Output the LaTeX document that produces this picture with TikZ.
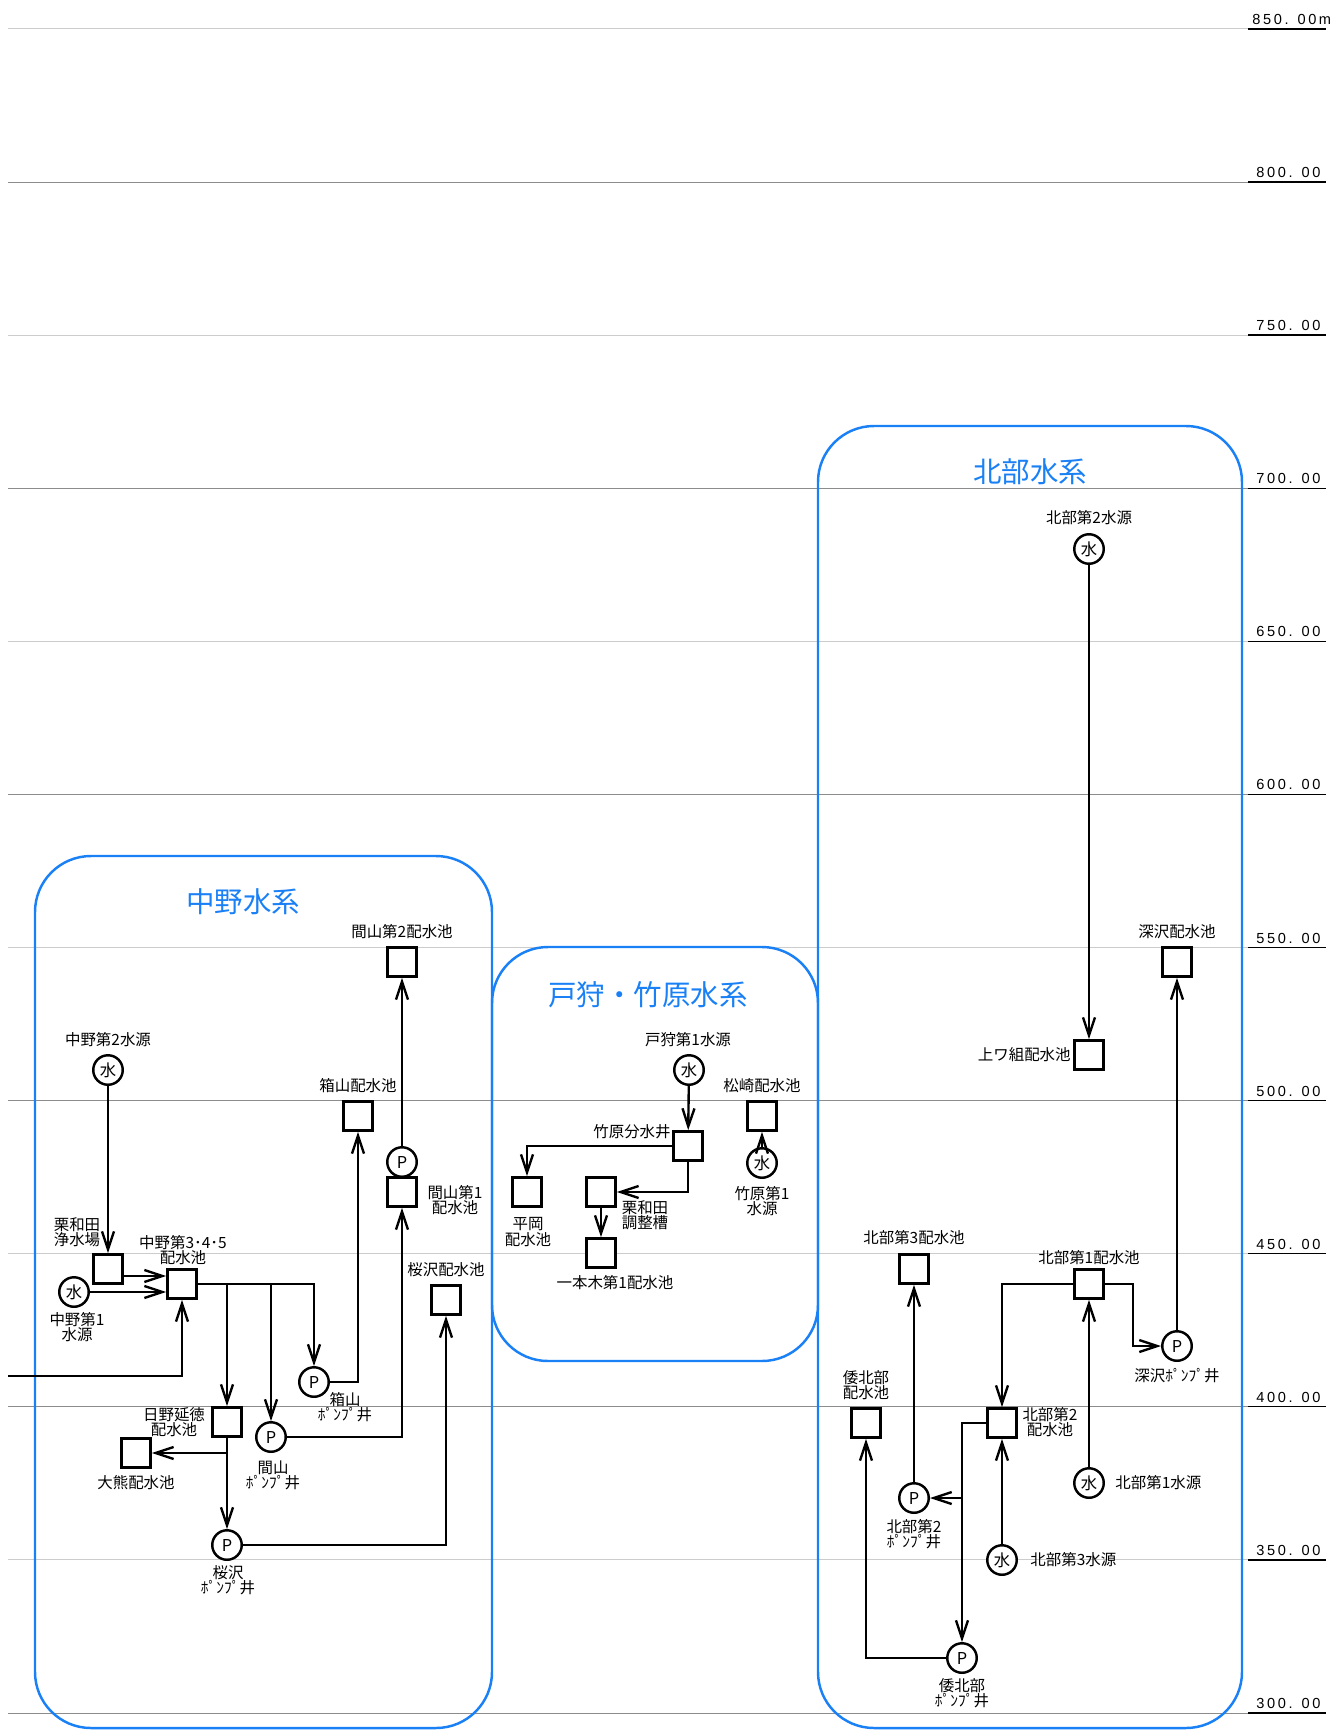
\documentclass[tikz,border=0pt]{standalone}
\usepackage{fontspec}
\setmainfont{Noto Sans CJK JP}
\newfontfamily\levelfont[LetterSpace=18]{Liberation Sans}
\usepackage{tikz}
\usetikzlibrary{arrows.meta,calc}
\definecolor{sysblue}{HTML}{1A80F5}

\begin{document}
\begin{tikzpicture}[
        x=0.2mm, y=-0.2mm,
        >={Straight Barb[length=3.6mm,width=2.4mm]},
        every node/.style={font={\fontsize{8.8}{8.6}\selectfont}},
        tank/.style={draw, fill=white, line width=1.7pt, minimum size=5.75mm, inner sep=0pt},
        pump/.style={draw, fill=white, circle, line width=1.4pt, minimum size=5.9mm, inner sep=0pt,
                     font={\fontsize{9.3}{9.3}\selectfont}},
        pipe/.style={line width=1.35pt},
        lbl/.style={align=center, inner sep=0pt},
        level/.style={inner sep=0pt, font={\levelfont\fontsize{8.3}{8.3}\selectfont}},
        frame/.style={draw=sysblue, line width=1.4pt, rounded corners=11.2mm},
        title/.style={text=sysblue, inner sep=0pt, font={\fontsize{16.2}{18}\selectfont}}
    ]
    \useasboundingbox (0,0) rectangle (1335,1731);

    %================================================
    % Level lines 300 m - 850 m
    %================================================
    \foreach \h in {300,400,...,800}
        \draw[black!45, line width=0.5pt] (8,{1713-(\h-300)*3.062}) -- (1248,{1713-(\h-300)*3.062});
    \foreach \h in {350,450,...,850}
        \draw[black!20, line width=0.5pt] (8,{1713-(\h-300)*3.062}) -- (1248,{1713-(\h-300)*3.062});
    \foreach \h in {300,350,...,800}{
        \draw[line width=0.7pt] (1248,{1713-(\h-300)*3.062}) -- (1326,{1713-(\h-300)*3.062});
        \node[level, anchor=base west] (lv\h) at (1256,{1713-(\h-300)*3.062-4.5}) {\h. 00};
    }
    \draw[line width=0.7pt] (1248,29) -- (1326,29);
    \node[level, anchor=base west] (lv850) at (1252,24.5) {850. 00m};

    %================================================
    % 中野水系
    %================================================
    \draw[frame] (35,856) rectangle (492,1728);
    \node[title] (nakanoT) at (243,902) {中野水系};

    \node[pump] (nakano2) at (108,1070) {水};
    \node[lbl] (nakano2L) at (108,1040) {中野第2水源};
    \node[tank] (kuriJ) at (108,1269) {};
    \node[lbl] (kuriJL) at (77,1232) {栗和田\\浄水場};
    \node[tank] (nakano345) at (182,1284) {};
    \node[lbl] (nakano345L) at (183,1250) {中野第3･4･5\\配水池};
    \node[pump] (nakano1) at (74,1292) {水};
    \node[lbl] (nakano1L) at (77,1327) {中野第1\\水源};

    \node[tank] (hako) at (358,1116) {};
    \node[lbl] (hakoL) at (358,1086) {箱山配水池};
    \node[pump] (hakoP) at (314,1382) {P};
    \node[lbl] (hakoPL) at (345,1407) {箱山\\ﾎﾟﾝﾌﾟ井};

    \node[tank] (mayama2) at (402,962) {};
    \node[lbl] (mayama2L) at (402,932) {間山第2配水池};
    \node[pump] (mayama1P) at (402,1162) {P};
    \node[tank] (mayama1) at (402,1192) {};
    \node[lbl] (mayama1L) at (455,1200) {間山第1\\配水池};
    \node[pump] (mayamaP) at (271,1437) {P};
    \node[lbl] (mayamaPL) at (273,1475) {間山\\ﾎﾟﾝﾌﾟ井};

    \node[tank] (sakura) at (446,1300) {};
    \node[lbl] (sakuraL) at (446,1270) {桜沢配水池};
    \node[pump] (sakuraP) at (227,1545) {P};
    \node[lbl] (sakuraPL) at (228,1580) {桜沢\\ﾎﾟﾝﾌﾟ井};

    \node[tank] (hino) at (227,1422) {};
    \node[lbl] (hinoL) at (174,1422) {日野延徳\\配水池};
    \node[tank] (okuma) at (136,1453) {};
    \node[lbl] (okumaL) at (136,1483) {大熊配水池};

    \coordinate (westin) at (8,1376);
    \coordinate (kuriJout) at ($(kuriJ.east)+(0,7)$);

    \draw[pipe,->] (nakano2) -- (kuriJ);
    \draw[pipe,->] (kuriJout) -- (kuriJout -| nakano345.west);
    \draw[pipe,->] (nakano1) -- (nakano1 -| nakano345.west);
    \draw[pipe,->] (westin) -| (nakano345);
    \draw[pipe,->] (nakano345.east) -| (hakoP);
    \draw[pipe,->] (nakano345.east -| hino) -- (hino);
    \draw[pipe,->] (nakano345.east -| mayamaP) -- (mayamaP);
    \draw[pipe,->] (hakoP) -| (hako);
    \draw[pipe,->] (mayamaP) -| (mayama1);
    \draw[pipe,->] (mayama1P) -- (mayama2);
    \draw[pipe,->] (hino) -- (sakuraP);
    \draw[pipe,->] (hino |- okuma) -- (okuma);
    \draw[pipe,->] (sakuraP) -| (sakura);

    %================================================
    % 戸狩・竹原水系
    %================================================
    \draw[frame] (492,947) rectangle (818,1361);
    \node[title] (togariT) at (648,995) {戸狩・竹原水系};

    \node[pump] (togari1) at (689,1070) {水};
    \node[lbl] (togari1L) at (688,1040) {戸狩第1水源};
    \node[tank] (bunsui) at (688,1146) {};
    \node[lbl] (bunsuiL) at (632,1132) {竹原分水井};
    \node[tank] (hiraoka) at (527,1192) {};
    \node[lbl] (hiraokaL) at (528,1232) {平岡\\配水池};
    \node[tank] (kuriT) at (601,1192) {};
    \node[lbl] (kuriTL) at (645,1215) {栗和田\\調整槽};
    \node[tank] (ipponki) at (601,1253) {};
    \node[lbl] (ipponkiL) at (615,1283) {一本木第1配水池};
    \node[tank] (matsu) at (762,1116) {};
    \node[lbl] (matsuL) at (762,1086) {松崎配水池};
    \node[pump] (takehara1) at (762,1163) {水};
    \node[lbl] (takehara1L) at (762,1201) {竹原第1\\水源};

    \draw[pipe,->] (togari1) -- (bunsui);
    \draw[pipe,->] (bunsui) -| (hiraoka);
    \draw[pipe,->] (bunsui) |- (kuriT);
    \draw[pipe,->] (kuriT) -- (ipponki);
    \draw[pipe,->] (takehara1) -- (matsu);

    %================================================
    % 北部水系
    %================================================
    \draw[frame] (818,426) rectangle (1242,1728);
    \node[title] (hokubuT) at (1030,472) {北部水系};

    \node[pump] (hb2src) at (1089,549) {水};
    \node[lbl] (hb2srcL) at (1089,518) {北部第2水源};
    \node[tank] (uwagumi) at (1089,1055) {};
    \node[lbl, anchor=east] (uwagumiL) at (1071,1055) {上ワ組配水池};
    \node[tank] (fuka) at (1177,962) {};
    \node[lbl] (fukaL) at (1177,932) {深沢配水池};
    \node[pump] (fukaP) at (1177,1346) {P};
    \node[lbl] (fukaPL) at (1177,1376) {深沢ﾎﾟﾝﾌﾟ井};

    \node[tank] (hb3tank) at (914,1269) {};
    \node[lbl] (hb3tankL) at (914,1238) {北部第3配水池};
    \node[tank] (hb1tank) at (1089,1284) {};
    \node[lbl] (hb1tankL) at (1089,1258) {北部第1配水池};
    \node[tank] (hb2tank) at (1002,1423) {};
    \node[lbl] (hb2tankL) at (1050,1422) {北部第2\\配水池};
    \node[tank] (waki) at (866,1423) {};
    \node[lbl] (wakiL) at (866,1385) {倭北部\\配水池};

    \node[pump] (hb2P) at (914,1498) {P};
    \node[lbl] (hb2PL) at (914,1534) {北部第2\\ﾎﾟﾝﾌﾟ井};
    \node[pump] (hb1src) at (1089,1483) {水};
    \node[lbl, anchor=west] (hb1srcL) at (1115,1483) {北部第1水源};
    \node[pump] (hb3src) at (1002,1560) {水};
    \node[lbl, anchor=west] (hb3srcL) at (1030,1560) {北部第3水源};
    \node[pump] (wakiP) at (962,1658) {P};
    \node[lbl] (wakiPL) at (962,1693) {倭北部\\ﾎﾟﾝﾌﾟ井};

    \draw[pipe,->] (hb2src) -- (uwagumi);
    \draw[pipe,->] (hb1tank) -| (hb2tank);
    \draw[pipe,->] (hb1tank.east) -- ++(28,0) |- (fukaP);
    \draw[pipe,->] (fukaP) -- (fuka);
    \draw[pipe,->] (hb1src) -- (hb1tank);
    \draw[pipe,->] (hb3src) -- (hb2tank);
    \draw[pipe,->] (hb2P) -- (hb3tank);
    \draw[pipe,->] (hb2tank) -| (wakiP);
    \draw[pipe,->] (wakiP |- hb2P) -- (hb2P);
    \draw[pipe,->] (wakiP) -| (waki);

\end{tikzpicture}
\end{document}
